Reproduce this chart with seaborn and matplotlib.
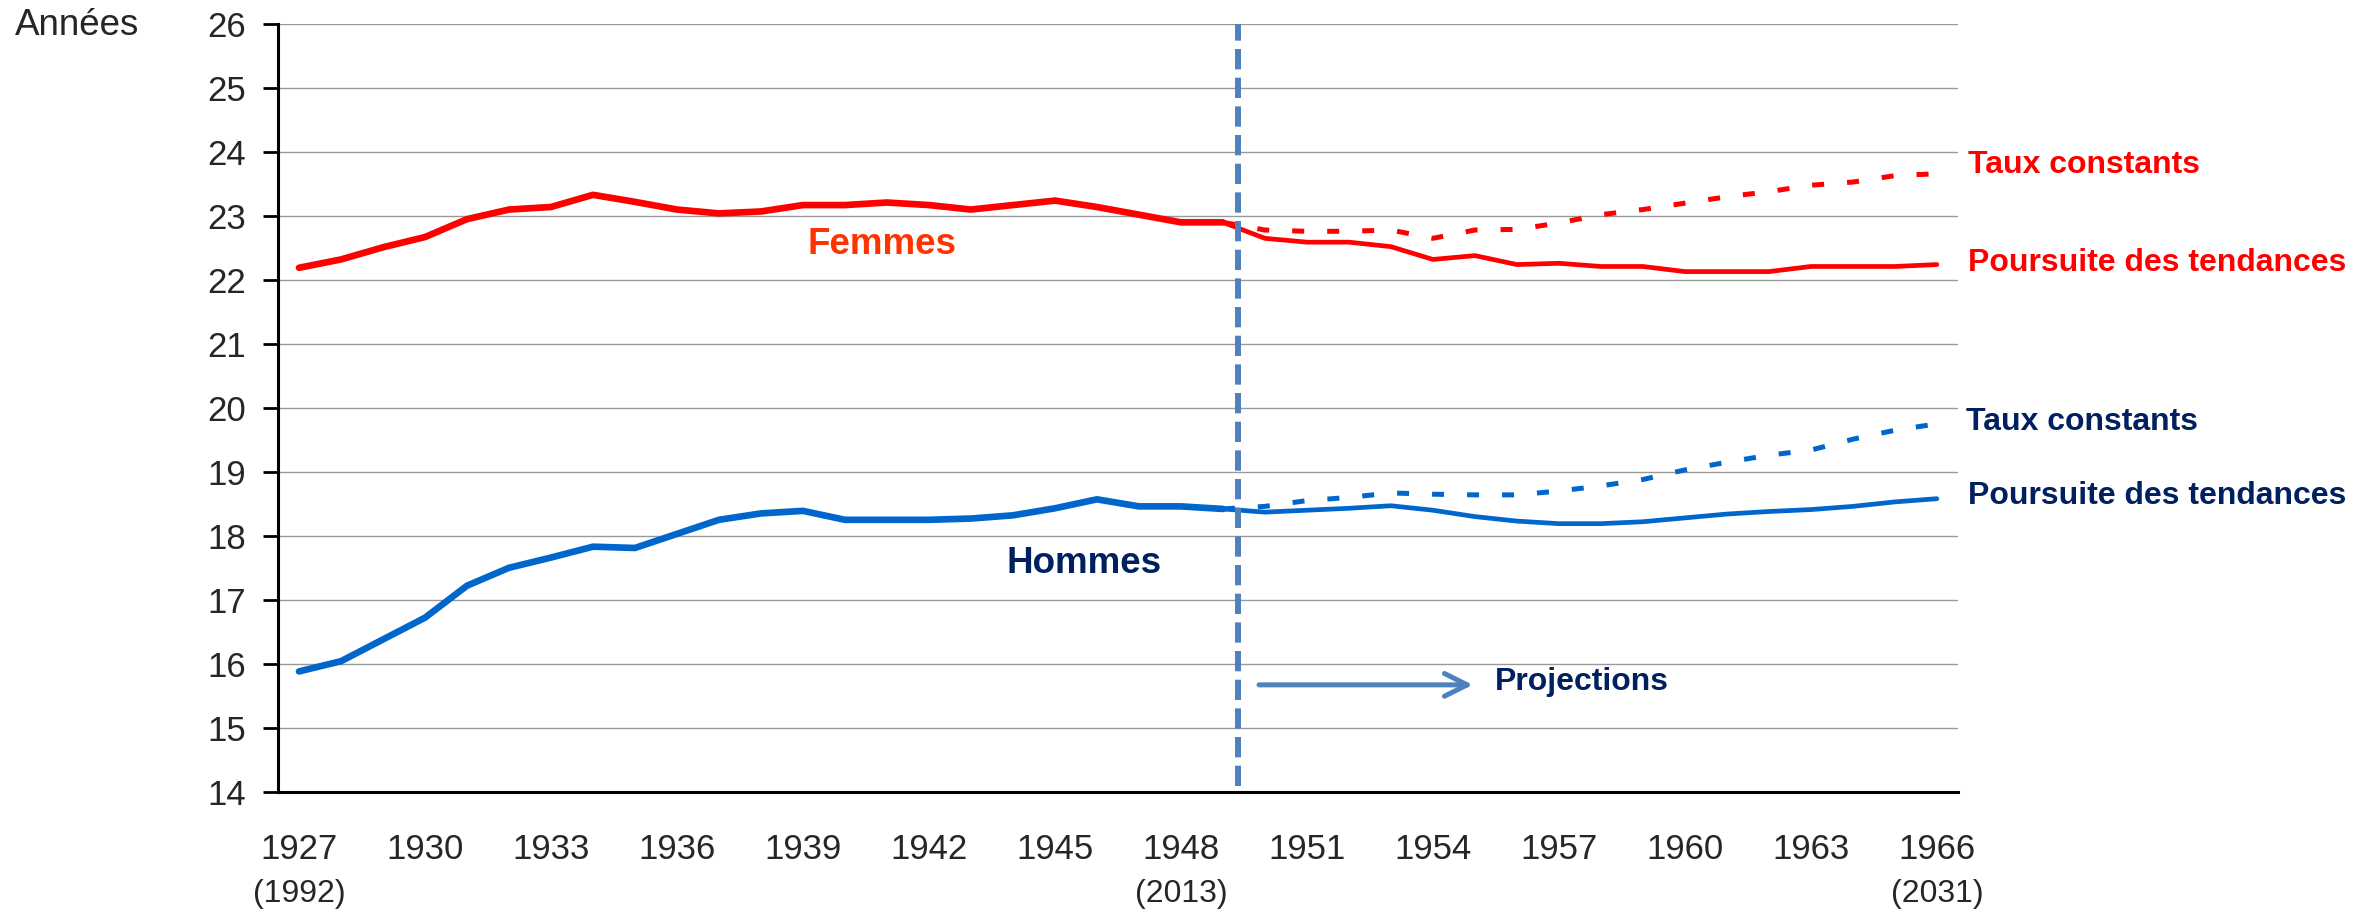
import matplotlib
matplotlib.use("Agg")
import pandas as pd
import matplotlib.pyplot as plt
import seaborn as sns

# observed period (x axis = age-cohort year, one category per year)
years_hist = list(range(1927, 1950))
femmes_hist = [22.19, 22.32, 22.51, 22.67, 22.95, 23.10, 23.14, 23.33, 23.22, 23.10,
               23.04, 23.07, 23.17, 23.17, 23.21, 23.17, 23.10, 23.17, 23.24, 23.14,
               23.02, 22.90, 22.90]
hommes_hist = [15.88, 16.04, 16.38, 16.72, 17.22, 17.50, 17.66, 17.83, 17.81, 18.03,
               18.25, 18.35, 18.39, 18.25, 18.25, 18.25, 18.27, 18.32, 18.43, 18.57,
               18.46, 18.46, 18.42]

# projections
years_proj = list(range(1949, 1967))
femmes_tend = [22.90, 22.65, 22.59, 22.59, 22.52, 22.32, 22.38, 22.24, 22.26, 22.21,
               22.21, 22.13, 22.13, 22.13, 22.21, 22.21, 22.21, 22.24]
femmes_const = [22.90, 22.78, 22.76, 22.76, 22.78, 22.65, 22.78, 22.79, 22.89, 23.02,
                23.10, 23.20, 23.30, 23.38, 23.48, 23.53, 23.63, 23.66]
hommes_tend = [18.42, 18.37, 18.40, 18.43, 18.47, 18.40, 18.30, 18.23, 18.19, 18.19,
               18.22, 18.28, 18.34, 18.38, 18.41, 18.46, 18.53, 18.58]
hommes_const = [18.42, 18.46, 18.55, 18.60, 18.67, 18.65, 18.64, 18.64, 18.70, 18.78,
                18.88, 19.03, 19.15, 19.26, 19.34, 19.51, 19.65, 19.75]

tick_years = list(range(1927, 1967, 3))
calendar_labels = {1927: "(1992)", 1948: "(2013)", 1966: "(2031)"}

RED = "#FF0000"
BLUE = "#0066CC"
NAVY = "#002060"
STEEL = "#4F81BD"

sns.set_style("white")
plt.rcParams["font.family"] = ["Liberation Sans", "DejaVu Sans"]

hist = pd.DataFrame({"year": years_hist, "femmes": femmes_hist, "hommes": hommes_hist})
proj = pd.DataFrame({"year": years_proj, "f_tend": femmes_tend, "f_const": femmes_const,
                     "h_tend": hommes_tend, "h_const": hommes_const})

fig = plt.figure(figsize=(23.56, 9.10), dpi=100)
ax = fig.add_axes([0.118, 0.130, 0.713, 0.8436])

dots = (0, (2.4, 4.6))
sns.lineplot(data=proj, x="year", y="f_const", ax=ax, color=RED, lw=3.6, linestyle=dots)
sns.lineplot(data=proj, x="year", y="h_const", ax=ax, color=BLUE, lw=3.6, linestyle=dots)
sns.lineplot(data=proj, x="year", y="f_tend", ax=ax, color=RED, lw=3.4,
             solid_joinstyle="round")
sns.lineplot(data=proj, x="year", y="h_tend", ax=ax, color=BLUE, lw=3.4,
             solid_joinstyle="round")
sns.lineplot(data=hist, x="year", y="femmes", ax=ax, color=RED, lw=4.8,
             solid_joinstyle="round")
sns.lineplot(data=hist, x="year", y="hommes", ax=ax, color=BLUE, lw=4.8,
             solid_joinstyle="round")

ax.axvline(1949.35, ymin=0.008, ymax=1, color=STEEL, lw=4.3,
           linestyle=(0, (3.4, 1.4)), zorder=5)

ax.set_xlim(1926.5, 1966.5)
ax.set_ylim(14, 26)
ax.set_yticks(range(14, 27))
ax.set_xticks(tick_years)
ax.set_xticks([y - 0.5 for y in tick_years], minor=True)
ax.tick_params(axis="x", which="major", length=0, pad=30, labelsize=25)
ax.tick_params(axis="x", which="minor", length=8, width=2, direction="out", color="black")
ax.tick_params(axis="y", length=11, width=2, direction="out", color="black",
               labelsize=25, pad=12, left=True)
ax.set_xlabel("")
ax.set_ylabel("")
ax.grid(axis="y", color="#999999", lw=1.0)
ax.set_axisbelow(True)
for side in ["top", "right"]:
    ax.spines[side].set_visible(False)
for side in ["left", "bottom"]:
    ax.spines[side].set_color("black")
    ax.spines[side].set_linewidth(2.2)

for yr, lab in calendar_labels.items():
    ax.text(yr, -0.133, lab, transform=ax.get_xaxis_transform(), ha="center",
            va="center", fontsize=23)

fig.text(0.0064, 0.9615, "Années", ha="left", va="baseline", fontsize=26.5)

ax.text(1940.88, 22.55, "Femmes", color="#FF3300", fontsize=26.5, fontweight="bold",
        ha="center", va="center")
ax.text(1945.7, 17.57, "Hommes", color=NAVY, fontsize=26.5, fontweight="bold",
        ha="center", va="center")

ax.text(1966.74, 23.80, "Taux constants", color=RED, fontsize=23, fontweight="bold",
        ha="left", va="center", clip_on=False)
ax.text(1966.74, 22.27, "Poursuite des tendances", color=RED, fontsize=23,
        fontweight="bold", ha="left", va="center", clip_on=False)
ax.text(1966.69, 19.78, "Taux constants", color=NAVY, fontsize=23, fontweight="bold",
        ha="left", va="center", clip_on=False)
ax.text(1966.74, 18.63, "Poursuite des tendances", color=NAVY, fontsize=23,
        fontweight="bold", ha="left", va="center", clip_on=False)

ax.annotate("", xy=(1954.95, 15.67), xytext=(1949.86, 15.67),
            arrowprops=dict(arrowstyle="->", color=STEEL, lw=3.6, mutation_scale=41,
                            shrinkA=0, shrinkB=0, capstyle="round",
                            joinstyle="round"))
ax.text(1955.48, 15.71, "Projections", color=NAVY, fontsize=23, fontweight="bold",
        ha="left", va="center")

fig.savefig("out.png", dpi=100)
